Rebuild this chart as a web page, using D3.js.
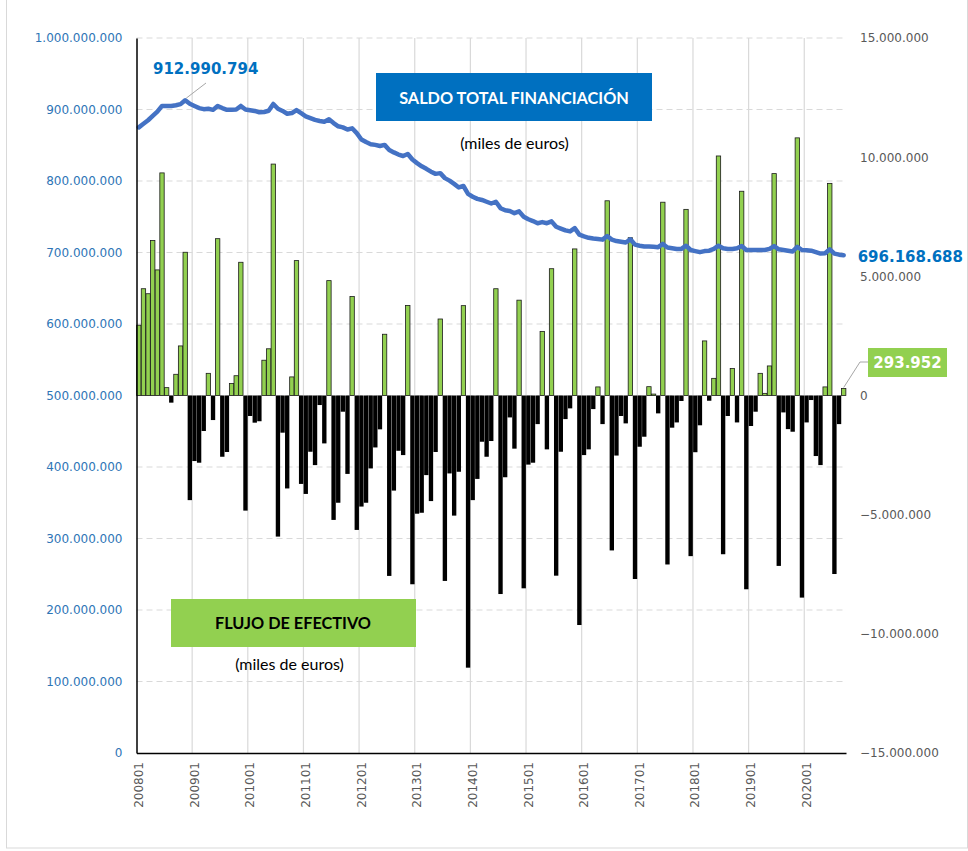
<!DOCTYPE html>
<html><head><meta charset="utf-8">
<script src="https://cdn.jsdelivr.net/npm/d3@7/dist/d3.min.js"></script>
<style>body{margin:0;background:#fff}svg{display:block}</style>
</head><body>
<svg id="chart" width="968" height="851"></svg>
<script>
// Months 200801 .. 202009
const years = [2008,2009,2010,2011,2012,2013,2014,2015,2016,2017,2018,2019,2020];
const monthsLastYear = 9;
const categories = [];
years.forEach(y => {
  const n = (y === 2020) ? monthsLastYear : 12;
  for (let m = 1; m <= n; m++) categories.push(String(y) + String(m).padStart(2, "0"));
});

// Flujo de efectivo (millones de "miles de euros")
const flujo = [
  2.95, 4.48, 4.27, 6.50, 5.27, 9.34, 0.33, -0.30, 0.89, 2.08, 6.01, -4.39,
  -2.75, -2.82, -1.49, 0.93, -1.03, 6.58, -2.57, -2.37, 0.50, 0.83, 5.59, -4.83,
  -0.86, -1.14, -1.08, 1.48, 1.96, 9.71, -5.92, -1.56, -3.90, 0.78, 5.66, -3.71,
  -4.13, -2.36, -2.92, -0.40, -2.01, 4.82, -5.22, -4.50, -0.68, -3.29, 4.15, -5.64,
  -4.66, -4.50, -3.06, -2.18, -1.42, 2.57, -7.57, -3.99, -2.32, -2.50, 3.78, -7.92,
  -4.96, -4.92, -3.34, -4.43, -2.37, 3.21, -7.78, -3.27, -5.04, -3.20, 3.77, -11.42,
  -4.39, -3.50, -1.94, -2.57, -1.91, 4.48, -8.33, -3.43, -0.92, -2.23, 4.00, -8.09,
  -2.90, -2.82, -1.20, 2.69, -2.26, 5.32, -7.56, -2.36, -0.99, -0.54, 6.15, -9.63,
  -2.50, -2.26, -0.57, 0.36, -1.20, 8.17, -6.50, -2.52, -0.86, -1.17, 6.62, -7.70,
  -2.15, -1.73, 0.37, 0.06, -0.75, 8.11, -7.09, -1.35, -1.13, -0.23, 7.81, -6.74,
  -2.38, -1.25, 2.29, -0.22, 0.72, 10.05, -6.66, -0.86, 1.13, -1.13, 8.57, -8.13,
  -1.28, -0.68, 0.93, 0.09, 1.24, 9.31, -7.15, -0.71, -1.41, -1.52, 10.81, -8.48,
  -1.13, -0.19, -2.54, -2.92, 0.36, 8.90, -7.49, -1.20, 0.293952
];

// Saldo total financiación (millones de "miles de euros")
const saldo = [
  875.0, 880.0, 885.0, 891.0, 897.0, 905.0, 905.0, 905.0, 906.0, 907.5, 912.990794, 908.0,
  905.0, 902.0, 900.5, 901.0, 899.5, 905.0, 902.0, 899.5, 899.5, 900.0, 905.0, 900.0,
  899.0, 898.0, 896.0, 896.5, 898.3, 907.7, 901.0, 898.0, 894.0, 895.0, 899.3, 895.0,
  890.5, 888.0, 885.5, 884.0, 883.0, 886.2, 881.0, 876.5, 875.0, 872.0, 873.7, 867.0,
  858.0, 854.5, 851.5, 850.5, 849.0, 850.5, 843.4, 840.0, 837.0, 835.0, 837.8, 830.0,
  825.0, 820.5, 817.0, 813.0, 810.0, 811.0, 804.0, 800.5, 796.0, 791.0, 793.0, 782.0,
  778.0, 775.0, 773.5, 771.0, 768.5, 771.0, 762.0, 759.0, 758.0, 755.0, 757.5, 750.0,
  746.5, 744.0, 741.0, 742.5, 741.0, 743.5, 736.0, 733.5, 731.0, 729.5, 734.0, 725.0,
  722.5, 720.5, 719.5, 719.0, 718.0, 723.0, 718.0, 716.0, 715.0, 714.0, 718.4, 711.0,
  709.5, 708.5, 708.5, 708.0, 707.5, 712.0, 707.0, 706.0, 705.0, 705.0, 709.5, 703.5,
  702.0, 700.5, 702.0, 702.5, 705.0, 709.5, 706.0, 705.0, 705.0, 706.0, 709.0, 703.5,
  703.5, 703.5, 703.5, 703.5, 705.0, 709.0, 704.5, 703.5, 702.5, 701.5, 708.0, 703.5,
  703.0, 702.5, 700.5, 698.5, 699.0, 704.5, 698.5, 697.0, 696.168688
];

const leftTicks = [0, 100, 200, 300, 400, 500, 600, 700, 800, 900, 1000];
const rightTicks = [-15, -10, -5, 0, 5, 10, 15];
const xTickLabels = ["200801","200901","201001","201101","201201","201301","201401","201501","201601","201701","201801","201901","202001"];

const maxLabel = "912.990.794";
const lastSaldoLabel = "696.168.688";
const lastFlujoLabel = "293.952";
const titleSaldo = "SALDO TOTAL FINANCIACIÓN";
const titleFlujo = "FLUJO DE EFECTIVO";
const subtitle = "(miles de euros)";

const es = d3.formatLocale({decimal: ",", thousands: ".", grouping: [3], currency: ["", " €"]});
const fmt = es.format(",.0f");

const svg = d3.select("#chart");
const L = 136.5, R = 846, T = 38, B = 753;

// outer chart border
svg.append("rect").attr("x", 6.5).attr("y", -1).attr("width", 961).attr("height", 849)
  .attr("fill", "none").attr("stroke", "#D9D9D9").attr("stroke-width", 1);

const x = d3.scaleBand().domain(categories).range([L, R]).paddingInner(0.06).paddingOuter(0.03);
const yL = d3.scaleLinear().domain([0, 1000]).range([B, T]);
const yR = d3.scaleLinear().domain([-15, 15]).range([B, T]);

// horizontal dashed gridlines
svg.append("g").selectAll("line").data(leftTicks.filter(d => d > 0)).join("line")
  .attr("x1", L).attr("x2", R).attr("y1", d => yL(d)).attr("y2", d => yL(d))
  .attr("stroke", "#D9D9D9").attr("stroke-width", 1.2).attr("stroke-dasharray", "6,4");

// vertical gridlines at year boundaries
svg.append("g").selectAll("line").data(xTickLabels.slice(1)).join("line")
  .attr("x1", d => x(d) - x.step() * x.paddingInner() / 2)
  .attr("x2", d => x(d) - x.step() * x.paddingInner() / 2)
  .attr("y1", T).attr("y2", B)
  .attr("stroke", "#D9D9D9").attr("stroke-width", 1.2);

// bars
const barData = categories.map((c, i) => ({c, v: flujo[i]}));
svg.append("g").selectAll("rect").data(barData).join("rect")
  .attr("x", d => x(d.c))
  .attr("width", x.bandwidth())
  .attr("y", d => yR(Math.max(0, d.v)))
  .attr("height", d => Math.abs(yR(d.v) - yR(0)))
  .attr("fill", d => d.v >= 0 ? "#92D050" : "#000")
  .attr("stroke", d => d.v >= 0 ? "#1a1a1a" : "none")
  .attr("stroke-width", 0.8);

// saldo line
const line = d3.line().x((d, i) => x(categories[i]) + x.bandwidth() / 2).y(d => yL(d));
svg.append("path").datum(saldo).attr("d", line)
  .attr("fill", "none").attr("stroke", "#4472C4").attr("stroke-width", 4.5)
  .attr("stroke-linejoin", "round").attr("stroke-linecap", "round");

// axes
const axL = svg.append("g").attr("transform", `translate(${L},0)`)
  .call(d3.axisLeft(yL).tickValues(leftTicks).tickFormat(d => fmt(d * 1e6)).tickSize(0).tickPadding(14));
axL.select(".domain").attr("stroke", "#000").attr("stroke-width", 1.5);
axL.selectAll("text").attr("fill", "#2E75B6").style("font-family", "DejaVu Sans").style("font-size", "12px");

const axR = svg.append("g").attr("transform", `translate(${R},0)`)
  .call(d3.axisRight(yR).tickValues(rightTicks).tickFormat(d => fmt(d * 1e6)).tickSize(0).tickPadding(14));
axR.select(".domain").remove();
axR.selectAll("text").attr("fill", "#595959").style("font-family", "DejaVu Sans").style("font-size", "12px");

const axB = svg.append("g").attr("transform", `translate(0,${B})`)
  .call(d3.axisBottom(x).tickValues(xTickLabels).tickSize(0));
axB.select(".domain").attr("stroke", "#000").attr("stroke-width", 1.5);
axB.selectAll("text").attr("fill", "#595959").style("font-family", "DejaVu Sans").style("font-size", "12px")
  .attr("transform", "rotate(-90)").attr("x", -9).attr("y", 0).attr("dy", "0.35em").style("text-anchor", "end");

// data labels
const iMax = saldo.indexOf(d3.max(saldo));
const xMax = x(categories[iMax]) + x.bandwidth() / 2;
svg.append("line").attr("x1", xMax + 1).attr("y1", yL(saldo[iMax]) - 2).attr("x2", 206).attr("y2", 83)
  .attr("stroke", "#A6A6A6").attr("stroke-width", 1);
svg.append("text").attr("x", 153).attr("y", 74).text(maxLabel)
  .attr("fill", "#0070C0").style("font-family", "DejaVu Sans").style("font-weight", "bold").style("font-size", "15px");

svg.append("text").attr("x", 963).attr("y", 261.5).attr("text-anchor", "end").text(lastSaldoLabel)
  .attr("fill", "#0070C0").style("font-family", "DejaVu Sans").style("font-weight", "bold").style("font-size", "15px");

const nLast = categories.length - 1;
const xLast = x(categories[nLast]) + x.bandwidth() / 2;
svg.append("polyline").attr("points", `${xLast},${yR(flujo[nLast]) - 1} 860,362 868,362`)
  .attr("fill", "none").attr("stroke", "#A6A6A6").attr("stroke-width", 1);
svg.append("rect").attr("x", 868).attr("y", 348).attr("width", 79).attr("height", 29).attr("fill", "#92D050");
svg.append("text").attr("x", 907.5).attr("y", 367.5).attr("text-anchor", "middle").text(lastFlujoLabel)
  .attr("fill", "#fff").style("font-family", "DejaVu Sans").style("font-weight", "bold").style("font-size", "15px");

// title boxes
svg.append("rect").attr("x", 376).attr("y", 73).attr("width", 276).attr("height", 48).attr("fill", "#0070C0");
svg.append("text").attr("x", 514).attr("y", 103.5).attr("text-anchor", "middle").text(titleSaldo)
  .attr("fill", "#fff").style("font-family", "Lato").style("font-weight", "bold").style("font-size", "16.3px");
svg.append("text").attr("x", 514.5).attr("y", 148.5).attr("text-anchor", "middle").text(subtitle)
  .attr("fill", "#000").style("font-family", "Lato").style("font-size", "16px");

svg.append("rect").attr("x", 171).attr("y", 599).attr("width", 245).attr("height", 48).attr("fill", "#92D050");
svg.append("text").attr("x", 293).attr("y", 629).attr("text-anchor", "middle").text(titleFlujo)
  .attr("fill", "#000").style("font-family", "Lato").style("font-weight", "bold").style("font-size", "16.3px");
svg.append("text").attr("x", 289.5).attr("y", 669.5).attr("text-anchor", "middle").text(subtitle)
  .attr("fill", "#000").style("font-family", "Lato").style("font-size", "16px");
</script>
</body></html>
